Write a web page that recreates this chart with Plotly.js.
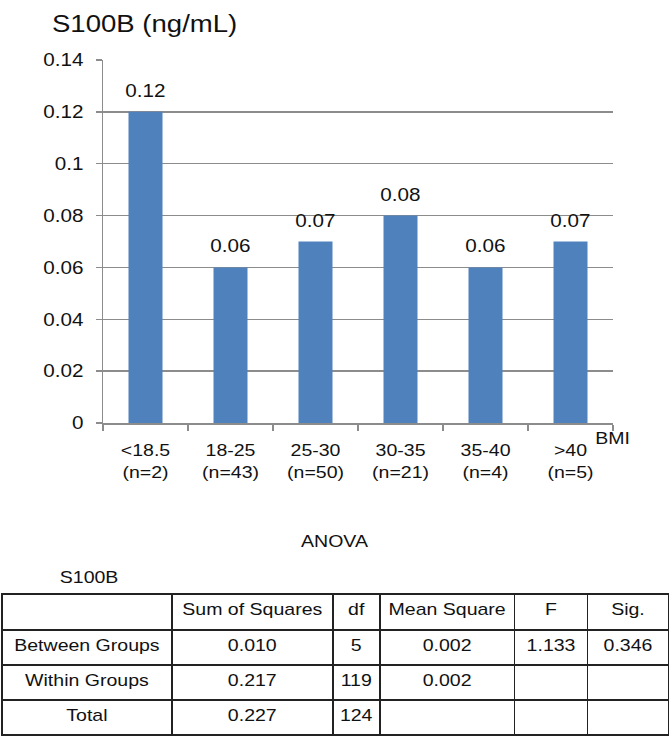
<!DOCTYPE html>
<html>
<head>
<meta charset="utf-8">
<script src="https://cdn.plot.ly/plotly-3.0.1.min.js"></script>
<style>
  html, body { margin: 0; padding: 0; background: #fff; overflow: hidden; }
  #wrap { width: 671px; height: 736px; overflow: hidden; }
  /* the reference artwork is horizontally stretched; reproduce that stretch */
  #chart { width: 584px; height: 736px; transform: scaleX(1.149); transform-origin: 0 0; }
</style>
</head>
<body>
<div id="wrap"><div id="chart"></div></div>
<script>
// ---- data ----
const groups = ['<18.5', '18-25', '25-30', '30-35', '35-40', '>40'];
const groupN = [2, 43, 50, 21, 4, 5];
const s100bMeans = [0.12, 0.06, 0.07, 0.08, 0.06, 0.07];
const yTicks = [0, 0.02, 0.04, 0.06, 0.08, 0.1, 0.12, 0.14];

const tableHeaders = ['', 'Sum of Squares', 'df', 'Mean Square', 'F', 'Sig.'];
const tableRowNames = ['Between Groups', 'Within Groups', 'Total'];
const sumOfSquares = ['0.010', '0.217', '0.227'];
const dfValues = ['5', '119', '124'];
const meanSquares = ['0.002', '0.002', ''];
const fValues = ['1.133', '', ''];
const sigValues = ['0.346', '', ''];

// ---- helpers ----
const REF_W = 671, H = 736, PLOT_W = 584;
const esc = s => s.replace(/</g, '&lt;').replace(/>/g, '&gt;');
const nb = s => s.replace(/ /g, '\u00a0');   // keep table texts on one line
const px = x => x / REF_W;
const py = y => 1 - y / H;
const FONT = 'Liberation Sans, Arial, sans-serif';
const ink = '#111';
const gridGray = '#8c8c8c';

const tickText = groups.map((g, i) => esc(g) + '<br>(n=' + groupN[i] + ')');

const barTrace = {
  type: 'bar',
  x: groups,
  y: s100bMeans,
  width: 0.4,
  marker: { color: '#4f81bd', line: { width: 0 } },
  hoverinfo: 'x+y',
  xaxis: 'x', yaxis: 'y'
};

const tableTrace = {
  type: 'table',
  domain: { x: [px(2), px(669)], y: [0, py(594)] },
  columnwidth: [170, 161, 47, 135, 73, 81],
  header: {
    values: tableHeaders.map(nb),
    height: 36,
    align: 'center',
    line: { color: '#222', width: 1.6 },
    fill: { color: '#ffffff' },
    font: { family: FONT, size: 17, color: ink }
  },
  cells: {
    values: [tableRowNames, sumOfSquares, dfValues, meanSquares, fValues, sigValues]
      .map(col => col.map(nb)),
    height: 35,
    align: 'center',
    line: { color: '#222', width: 1.6 },
    fill: { color: '#ffffff' },
    font: { family: FONT, size: 17, color: ink }
  }
};

const valueAnnotations = groups.map((g, i) => ({
  x: g, y: s100bMeans[i], xref: 'x', yref: 'y',
  text: s100bMeans[i].toFixed(2),
  showarrow: false, yanchor: 'middle', yshift: 21,
  font: { family: FONT, size: 18, color: ink }
}));

const layout = {
  width: PLOT_W, height: H,
  margin: { l: 0, r: 0, t: 0, b: 0 },
  paper_bgcolor: '#fff', plot_bgcolor: '#fff',
  showlegend: false,
  font: { family: FONT, size: 17, color: ink },
  title: {
    text: 'S100B (ng/mL)',
    xref: 'paper', yref: 'paper',
    x: px(52), xanchor: 'left',
    y: py(24), yanchor: 'middle',
    font: { family: FONT, size: 24, color: ink }
  },
  xaxis: {
    domain: [px(103), px(613)],
    type: 'category',
    tickmode: 'array',
    tickvals: groups,
    ticktext: tickText,
    tickson: 'boundaries',
    ticks: 'outside', ticklen: 6, tickcolor: gridGray, tickwidth: 1.3,
    showline: true, linecolor: gridGray, linewidth: 1.5,
    showgrid: false, zeroline: false,
    tickfont: { family: FONT, size: 17, color: ink },
    ticklabelstandoff: 11,
    fixedrange: true
  },
  yaxis: {
    domain: [py(423), py(60)],
    range: [0, 0.14],
    tickmode: 'array',
    tickvals: yTicks,
    ticktext: yTicks.map(v => String(v)),
    ticks: 'outside', ticklen: 5, tickcolor: gridGray, tickwidth: 1.3,
    showline: true, linecolor: gridGray, linewidth: 1.3,
    showgrid: true, gridcolor: gridGray, gridwidth: 1.5,
    zeroline: false,
    tickfont: { family: FONT, size: 18, color: ink },
    ticklabelstandoff: 7,
    fixedrange: true
  },
  annotations: valueAnnotations.concat([
    { xref: 'paper', yref: 'paper', x: px(612), y: py(439), xanchor: 'center', yanchor: 'middle',
      text: 'BMI', showarrow: false, font: { family: FONT, size: 17, color: ink } },
    { xref: 'paper', yref: 'paper', x: px(335), y: py(541), xanchor: 'center', yanchor: 'middle',
      text: 'ANOVA', showarrow: false, font: { family: FONT, size: 17, color: ink } },
    { xref: 'paper', yref: 'paper', x: px(57), y: py(577), xanchor: 'left', yanchor: 'middle',
      text: 'S100B', showarrow: false, font: { family: FONT, size: 17, color: ink } }
  ])
};

Plotly.newPlot('chart', [barTrace, tableTrace], layout, { displayModeBar: false, staticPlot: true });
</script>
</body>
</html>
